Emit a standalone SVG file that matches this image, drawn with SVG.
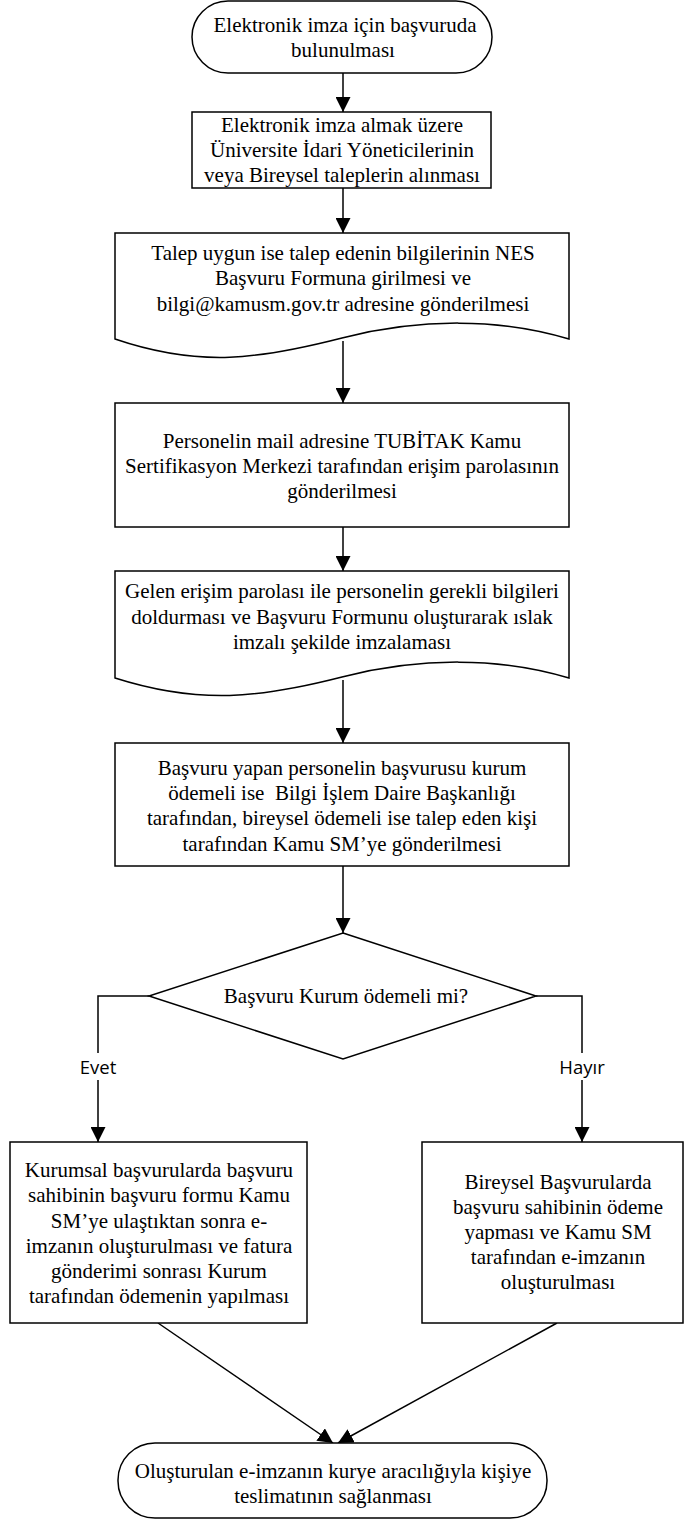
<svg xmlns="http://www.w3.org/2000/svg" width="684" height="1520" viewBox="0 0 684 1520">
<defs>
<style>
.shape{fill:#ffffff;stroke:#000000;stroke-width:1.5}
.t{font-family:'Liberation Serif','DejaVu Serif',serif;font-size:21px;fill:#000000;text-anchor:middle}
.lbl{font-family:'Open Sans','Noto Sans',sans-serif;font-size:18.5px;fill:#000000;text-anchor:middle}
.conn{fill:none;stroke:#000000;stroke-width:1.5;marker-end:url(#arrow)}
</style>
<marker id="arrow" viewBox="0 0 10 10" refX="10" refY="5" markerUnits="userSpaceOnUse" markerWidth="15" markerHeight="15" orient="auto">
<path d="M0,0 L10,5 L0,10 z" fill="#000000"/>
</marker>
</defs>
<rect width="684" height="1520" fill="#ffffff"/>

<g id="connectors">
<path class="conn" d="M343,73 V112"/>
<path class="conn" d="M343,188 V233"/>
<path class="conn" d="M343,341 V403"/>
<path class="conn" d="M343,527 V571"/>
<path class="conn" d="M343,680 V743"/>
<path class="conn" d="M343,866 V933"/>
<path class="conn" d="M149,996 H98 V1053 M98,1080 V1142"/>
<path class="conn" d="M536,996 H582 V1053 M582,1080 V1142"/>
<path class="conn" d="M158,1323 L333,1443"/>
<path class="conn" d="M557,1323 L338,1443"/>
<text class="lbl" x="98" y="1074">Evet</text>
<text class="lbl" x="582" y="1074">Hayır</text>
</g>

<g id="n1">
<rect class="shape" x="192" y="1" width="300" height="72" rx="36" ry="36"/>
<text class="t" font-family="Liberation Serif, DejaVu Serif, serif" x="345" y="32">Elektronik imza için başvuruda</text>
<text class="t" font-family="Liberation Serif, DejaVu Serif, serif" x="343" y="57">bulunulması</text>
</g>

<g id="n2" font-family="Liberation Serif, DejaVu Serif, serif">
<rect class="shape" x="192" y="112" width="299" height="76"/>
<text class="t" x="342" y="132">Elektronik imza almak üzere</text>
<text class="t" x="342" y="157">Üniversite İdari Yöneticilerinin</text>
<text class="t" x="342" y="182">veya Bireysel taleplerin alınması</text>
</g>

<g id="n3">
<path class="shape" d="M115,233 H569 V339 C500,318 420,318 342,338 C260,359 200,368 115,339 Z"/>
<text class="t" x="343" y="260">Talep uygun ise talep edenin bilgilerinin NES</text>
<text class="t" x="343" y="285">Başvuru Formuna girilmesi ve</text>
<text class="t" x="343" y="311">bilgi@kamusm.gov.tr adresine gönderilmesi</text>
</g>

<g id="n4">
<rect class="shape" x="115" y="403" width="454" height="124"/>
<text class="t" x="342" y="448">Personelin mail adresine TUBİTAK Kamu</text>
<text class="t" x="342" y="473">Sertifikasyon Merkezi tarafından erişim parolasının</text>
<text class="t" x="342" y="498">gönderilmesi</text>
</g>

<g id="n5">
<path class="shape" d="M115,571 H569 V678 C500,657 420,657 342,677 C260,698 200,705 115,678 Z"/>
<text class="t" x="342" y="598">Gelen erişim parolası ile personelin gerekli bilgileri</text>
<text class="t" x="342" y="624">doldurması ve Başvuru Formunu oluşturarak ıslak</text>
<text class="t" x="342" y="649">imzalı şekilde imzalaması</text>
</g>

<g id="n6">
<rect class="shape" x="115" y="743" width="454" height="123"/>
<text class="t" x="342" y="775">Başvuru yapan personelin başvurusu kurum</text>
<text class="t" x="342" y="800" style="white-space:pre">ödemeli ise  Bilgi İşlem Daire Başkanlığı</text>
<text class="t" x="342" y="825">tarafından, bireysel ödemeli ise talep eden kişi</text>
<text class="t" x="342" y="851">tarafından Kamu SM’ye gönderilmesi</text>
</g>

<g id="n7">
<path class="shape" d="M343,933 L536,996 L343,1059 L149,996 Z"/>
<text class="t" x="346" y="1003">Başvuru Kurum ödemeli mi?</text>
</g>

<g id="n8">
<rect class="shape" x="10" y="1142" width="297" height="181"/>
<text class="t" x="159" y="1177">Kurumsal başvurularda başvuru</text>
<text class="t" x="159" y="1202">sahibinin başvuru formu Kamu</text>
<text class="t" x="159" y="1228">SM’ye ulaştıktan sonra e-</text>
<text class="t" x="159" y="1253">imzanın oluşturulması ve fatura</text>
<text class="t" x="159" y="1278">gönderimi sonrası Kurum</text>
<text class="t" x="159" y="1303">tarafından ödemenin yapılması</text>
</g>

<g id="n9">
<rect class="shape" x="422" y="1142" width="261" height="181"/>
<text class="t" x="558" y="1189">Bireysel Başvurularda</text>
<text class="t" x="558" y="1214">başvuru sahibinin ödeme</text>
<text class="t" x="558" y="1239">yapması ve Kamu SM</text>
<text class="t" x="558" y="1264">tarafından e-imzanın</text>
<text class="t" x="558" y="1289">oluşturulması</text>
</g>

<g id="n10">
<rect class="shape" x="118" y="1443" width="429" height="75" rx="37" ry="37"/>
<text class="t" x="333" y="1478">Oluşturulan e-imzanın kurye aracılığıyla kişiye</text>
<text class="t" x="333" y="1503">teslimatının sağlanması</text>
</g>
</svg>
